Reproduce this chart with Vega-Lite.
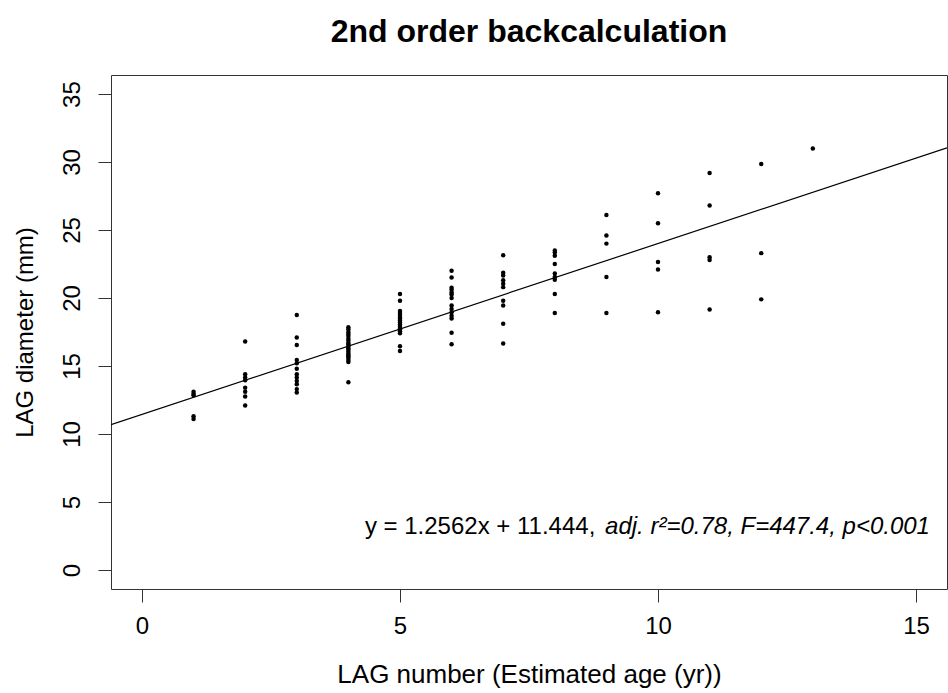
{
  "$schema": "https://vega.github.io/schema/vega-lite/v6.json",
  "description": "2nd order backcalculation: LAG diameter against LAG number",
  "width": 836,
  "height": 514,
  "autosize": "none",
  "padding": {"left": 111, "top": 75, "right": 1, "bottom": 104},
  "background": "white",
  "title": {
    "text": "2nd order backcalculation",
    "font": "Liberation Sans",
    "fontSize": 32,
    "fontWeight": "bold",
    "color": "black",
    "anchor": "middle",
    "baseline": "alphabetic",
    "offset": 1
  },
  "config": {
    "view": {"stroke": "#333", "strokeWidth": 1},
    "axis": {
      "domain": false,
      "grid": false,
      "tickColor": "#333",
      "tickSize": 13,
      "labelFont": "Liberation Sans",
      "labelFontSize": 24,
      "labelColor": "black",
      "titleFont": "Liberation Sans",
      "titleFontSize": 24,
      "titleFontWeight": "normal",
      "titleColor": "black"
    }
  },
  "datasets": {
    "lag": [
      {"age": 1, "diam": 13.1}, {"age": 1, "diam": 12.95}, {"age": 1, "diam": 12.85}, {"age": 1, "diam": 11.3}, {"age": 1, "diam": 11.1},
      {"age": 2, "diam": 16.8}, {"age": 2, "diam": 14.4}, {"age": 2, "diam": 14.15}, {"age": 2, "diam": 13.95}, {"age": 2, "diam": 13.4}, {"age": 2, "diam": 13.1}, {"age": 2, "diam": 12.75}, {"age": 2, "diam": 12.1},
      {"age": 3, "diam": 18.75}, {"age": 3, "diam": 17.1}, {"age": 3, "diam": 16.55}, {"age": 3, "diam": 15.45}, {"age": 3, "diam": 15.2}, {"age": 3, "diam": 14.8}, {"age": 3, "diam": 14.4}, {"age": 3, "diam": 14.15}, {"age": 3, "diam": 13.9}, {"age": 3, "diam": 13.65}, {"age": 3, "diam": 13.3}, {"age": 3, "diam": 13.05},
      {"age": 4, "diam": 17.85}, {"age": 4, "diam": 17.7}, {"age": 4, "diam": 17.5}, {"age": 4, "diam": 17.35}, {"age": 4, "diam": 17.2}, {"age": 4, "diam": 17.0}, {"age": 4, "diam": 16.85}, {"age": 4, "diam": 16.7}, {"age": 4, "diam": 16.6}, {"age": 4, "diam": 16.45}, {"age": 4, "diam": 16.3}, {"age": 4, "diam": 16.2}, {"age": 4, "diam": 16.05}, {"age": 4, "diam": 15.9}, {"age": 4, "diam": 15.8}, {"age": 4, "diam": 15.7}, {"age": 4, "diam": 15.6}, {"age": 4, "diam": 15.45}, {"age": 4, "diam": 15.3}, {"age": 4, "diam": 13.8},
      {"age": 5, "diam": 20.3}, {"age": 5, "diam": 19.8}, {"age": 5, "diam": 19.05}, {"age": 5, "diam": 18.9}, {"age": 5, "diam": 18.75}, {"age": 5, "diam": 18.6}, {"age": 5, "diam": 18.5}, {"age": 5, "diam": 18.35}, {"age": 5, "diam": 18.2}, {"age": 5, "diam": 18.05}, {"age": 5, "diam": 17.95}, {"age": 5, "diam": 17.8}, {"age": 5, "diam": 17.7}, {"age": 5, "diam": 17.55}, {"age": 5, "diam": 17.4}, {"age": 5, "diam": 16.45}, {"age": 5, "diam": 16.1},
      {"age": 6, "diam": 22.0}, {"age": 6, "diam": 21.5}, {"age": 6, "diam": 20.75}, {"age": 6, "diam": 20.6}, {"age": 6, "diam": 20.4}, {"age": 6, "diam": 20.25}, {"age": 6, "diam": 20.0}, {"age": 6, "diam": 19.45}, {"age": 6, "diam": 19.2}, {"age": 6, "diam": 18.95}, {"age": 6, "diam": 18.7}, {"age": 6, "diam": 18.5}, {"age": 6, "diam": 17.45}, {"age": 6, "diam": 16.6},
      {"age": 7, "diam": 23.15}, {"age": 7, "diam": 21.85}, {"age": 7, "diam": 21.65}, {"age": 7, "diam": 21.3}, {"age": 7, "diam": 21.05}, {"age": 7, "diam": 20.8}, {"age": 7, "diam": 19.8}, {"age": 7, "diam": 19.45}, {"age": 7, "diam": 18.1}, {"age": 7, "diam": 16.65},
      {"age": 8, "diam": 23.5}, {"age": 8, "diam": 23.35}, {"age": 8, "diam": 23.1}, {"age": 8, "diam": 22.5}, {"age": 8, "diam": 21.8}, {"age": 8, "diam": 21.55}, {"age": 8, "diam": 21.35}, {"age": 8, "diam": 20.3}, {"age": 8, "diam": 18.9},
      {"age": 9, "diam": 26.1}, {"age": 9, "diam": 24.6}, {"age": 9, "diam": 24.0}, {"age": 9, "diam": 21.55}, {"age": 9, "diam": 18.9},
      {"age": 10, "diam": 27.7}, {"age": 10, "diam": 25.5}, {"age": 10, "diam": 22.65}, {"age": 10, "diam": 22.1}, {"age": 10, "diam": 18.95},
      {"age": 11, "diam": 29.2}, {"age": 11, "diam": 26.8}, {"age": 11, "diam": 23.0}, {"age": 11, "diam": 22.8}, {"age": 11, "diam": 19.15},
      {"age": 12, "diam": 29.85}, {"age": 12, "diam": 23.3}, {"age": 12, "diam": 19.9},
      {"age": 13, "diam": 31.0}
    ],
    "fit": [
      {"age": -0.6, "diam": 10.690},
      {"age": 15.6, "diam": 31.041}
    ],
    "note": [
      {"age": 4.32, "diam": 2.67, "label": "y = 1.2562x + 11.444,", "part": "plain"},
      {"age": 15.27, "diam": 2.67, "label": "adj. r²=0.78, F=447.4, p<0.001", "part": "italic"}
    ]
  },
  "encoding": {
    "x": {
      "field": "age",
      "type": "quantitative",
      "title": "LAG number (Estimated age (yr))",
      "scale": {"domain": [-0.6, 15.6], "nice": false, "zero": false},
      "axis": {"values": [0, 5, 10, 15], "labelPadding": 12, "titleY": 93, "titleBaseline": "alphabetic", "titleFontSize": 26}
    },
    "y": {
      "field": "diam",
      "type": "quantitative",
      "title": "LAG diameter (mm)",
      "scale": {"domain": [-1.4, 36.4], "nice": false, "zero": false},
      "axis": {
        "values": [0, 5, 10, 15, 20, 25, 30, 35],
        "labelAngle": -90,
        "labelAlign": "center",
        "labelBaseline": "bottom",
        "labelPadding": 14,
        "titleX": -79,
        "titleAngle": -90,
        "titleBaseline": "alphabetic"
      }
    }
  },
  "layer": [
    {
      "data": {"name": "fit"},
      "mark": {"type": "line", "color": "black", "strokeWidth": 1.2, "clip": true}
    },
    {
      "data": {"name": "lag"},
      "mark": {"type": "circle", "color": "black", "opacity": 1, "size": 20}
    },
    {
      "data": {"name": "note"},
      "transform": [{"filter": "datum.part == 'plain'"}],
      "mark": {"type": "text", "align": "left", "baseline": "alphabetic", "font": "Liberation Sans", "fontSize": 24, "color": "black"},
      "encoding": {"text": {"field": "label"}}
    },
    {
      "data": {"name": "note"},
      "transform": [{"filter": "datum.part == 'italic'"}],
      "mark": {"type": "text", "align": "right", "baseline": "alphabetic", "font": "Liberation Sans", "fontSize": 24, "fontStyle": "italic", "color": "black"},
      "encoding": {"text": {"field": "label"}}
    }
  ]
}
